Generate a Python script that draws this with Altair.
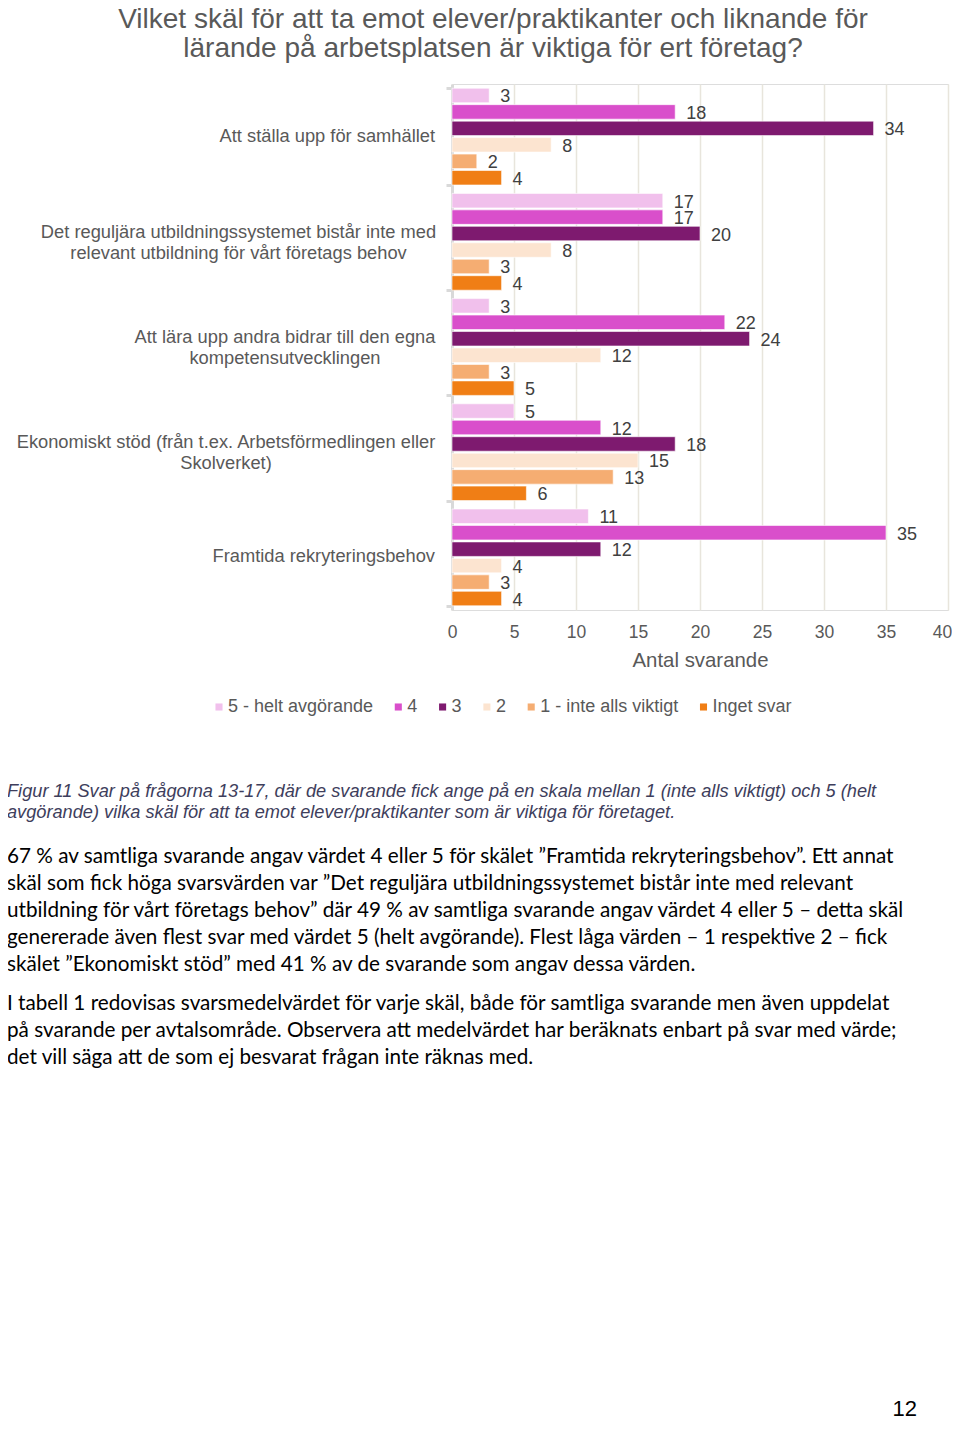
import altair as alt
import pandas as pd

categories = [
    "Att ställa upp för samhället",
    "Det reguljära utbildningssystemet bistår inte med relevant utbildning för vårt företags behov",
    "Att lära upp andra bidrar till den egna kompetensutvecklingen",
    "Ekonomiskt stöd (från t.ex. Arbetsförmedlingen eller Skolverket)",
    "Framtida rekryteringsbehov",
]
category_labels = [
    "Att ställa upp för samhället",
    "Det reguljära utbildningssystemet bistår inte med\nrelevant utbildning för vårt företags behov",
    "Att lära upp andra bidrar till den egna\nkompetensutvecklingen",
    "Ekonomiskt stöd (från t.ex. Arbetsförmedlingen eller\nSkolverket)",
    "Framtida rekryteringsbehov",
]
series = ["5 - helt avgörande", "4", "3", "2", "1 - inte alls viktigt", "Inget svar"]
colors = ["#F1C0EC", "#D94FCB", "#7E1A6F", "#FCE4D0", "#F5AD72", "#F07E15"]

values_samhallet = [3, 18, 34, 8, 2, 4]
values_reguljara = [17, 17, 20, 8, 3, 4]
values_lara_upp = [3, 22, 24, 12, 3, 5]
values_ekonomiskt = [5, 12, 18, 15, 13, 6]
values_framtida = [11, 35, 12, 4, 3, 4]

x_ticks = [0, 5, 10, 15, 20, 25, 30, 35, 40]

title_text = "Vilket skäl för att ta emot elever/praktikanter och liknande för\nlärande på arbetsplatsen är viktiga för ert företag?"
caption_text = ("Figur 11 Svar på frågorna 13-17, där de svarande fick ange på en skala mellan 1 (inte alls viktigt) och 5 (helt\n"
                "avgörande) vilka skäl för att ta emot elever/praktikanter som är viktiga för företaget.")
para1_text = ("67 % av samtliga svarande angav värdet 4 eller 5 för skälet ”Framtida rekryteringsbehov”. Ett annat\n"
              "skäl som fick höga svarsvärden var ”Det reguljära utbildningssystemet bistår inte med relevant\n"
              "utbildning för vårt företags behov” där 49 % av samtliga svarande angav värdet 4 eller 5 – detta skäl\n"
              "genererade även flest svar med värdet 5 (helt avgörande). Flest låga värden – 1 respektive 2 – fick\n"
              "skälet ”Ekonomiskt stöd” med 41 % av de svarande som angav dessa värden.")
para2_text = ("I tabell 1 redovisas svarsmedelvärdet för varje skäl, både för samtliga svarande men även uppdelat\n"
              "på svarande per avtalsområde. Observera att medelvärdet har beräknats enbart på svar med värde;\n"
              "det vill säga att de som ej besvarat frågan inte räknas med.")
page_number = "12"

all_values = [values_samhallet, values_reguljara, values_lara_upp, values_ekonomiskt, values_framtida]
rows = []
for cat, vals in zip(categories, all_values):
    for s, v in zip(series, vals):
        rows.append({"kategori": cat, "svar": s, "antal": v})
df = pd.DataFrame(rows)

FONT = "Liberation Sans"
GREY = "#595959"

y_enc = alt.Y(
    "kategori:N",
    scale=alt.Scale(domain=categories, paddingInner=0.08, paddingOuter=0.04),
    axis=alt.Axis(labels=False, title=None, domainColor="#D9D9D9", domainWidth=3,
                  tickBand="extent", tickColor="#D9D9D9", tickWidth=3, tickSize=6,
                  grid=False),
)
yoff_enc = alt.YOffset("svar:N", scale=alt.Scale(domain=series, paddingInner=0.12, paddingOuter=0))
x_enc = alt.X(
    "antal:Q",
    scale=alt.Scale(domain=[0, 40], nice=False),
    axis=alt.Axis(values=x_ticks, title="Antal svarande", titleFontSize=20.4, titleFontWeight="normal",
                  titleColor=GREY, titleFont=FONT, titlePadding=10, labelFontSize=17.5, labelColor=GREY,
                  labelFont=FONT, labelPadding=13, labelFlush=False,
                  labelOffset=alt.ConditionalAxisNumber(condition={"test": "datum.value == 40", "value": -6}, value=0),
                  ticks=False, domain=False, grid=True,
                  gridColor="#E8E5DC", gridWidth=1.5),
)

base = alt.Chart(df).encode(y=y_enc, yOffset=yoff_enc, x=x_enc)

bars = base.mark_bar(stroke="white", strokeWidth=0.6).encode(
    color=alt.Color(
        "svar:N",
        scale=alt.Scale(domain=series, range=colors),
        legend=alt.Legend(orient="none", legendX=-242, legendY=614, direction="horizontal", columns=6,
                          title=None, symbolType="square", symbolSize=50, symbolStrokeWidth=0,
                          labelFontSize=18, labelColor=GREY, labelFont=FONT, labelOffset=0,
                          columnPadding=15.3),
    )
)
labels = base.mark_text(align="left", baseline="middle", dx=11, dy=2, fontSize=18, color="#404040", font=FONT).encode(
    text="antal:Q"
)

layers = [bars, labels]

# category labels (right edge of block at x=-17; multi-line blocks centred)
label_x = [-17, -213.5, -167, -226, -17]
label_align = ["right", "center", "center", "center", "right"]
label_dy = [0, -8.5, -9.5, -9.5, 0]
for cat, txt, lx, la, ldy in zip(categories, category_labels, label_x, label_align, label_dy):
    layers.append(
        alt.Chart(pd.DataFrame({"kategori": [cat]})).mark_text(
            align=la, baseline="middle", lineBreak="\n", lineHeight=21, fontSize=18.3, color=GREY, font=FONT,
            dy=ldy
        ).encode(y=y_enc, x=alt.value(lx), text=alt.value(txt))
    )

def note(text, x, y, size, color, align="left", style="normal", font=FONT, lh=None):
    return alt.Chart(pd.DataFrame({"k": [0]})).mark_text(
        align=align, baseline="alphabetic", lineBreak="\n", lineHeight=lh or size + 4,
        fontSize=size, color=color, font=font, fontStyle=style
    ).encode(x=alt.value(x), y=alt.value(y), text=alt.value(text))

layers.append(note(title_text, 41, -56, 28, GREY, align="center", lh=29))
layers.append(note(caption_text, -445, 713, 18.2, "#3E3E5C", style="italic", lh=21))
layers.append(note(para1_text, -445, 779, 20.7, "#000000", font="Lato", lh=27))
layers.append(note(para2_text, -445, 926, 20.7, "#000000", font="Lato", lh=27))
layers.append(note(page_number, 465, 1332, 22, "#000000", align="right"))

chart = alt.layer(*layers).properties(
    width=496, height=526,
    autosize=alt.AutoSizeParams(type="none"),
    padding={"left": 444, "top": 76, "right": 4, "bottom": 812},
).configure_view(stroke="#E8E5DC", strokeWidth=1.5).configure(background="white")

chart.save("out.html", embed_options={"renderer": "svg", "actions": False})
